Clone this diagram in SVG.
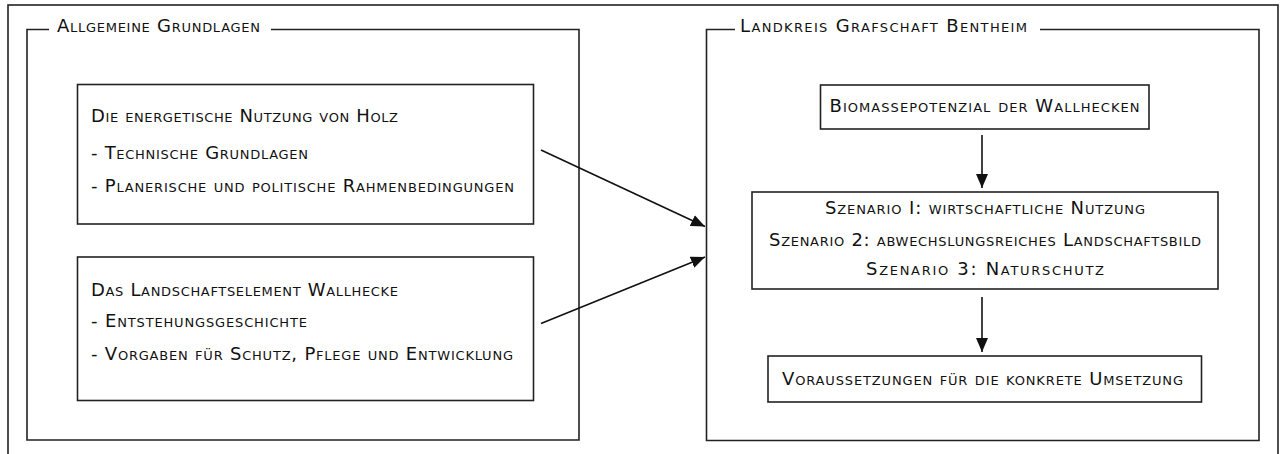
<svg xmlns="http://www.w3.org/2000/svg" width="1282" height="454" viewBox="0 0 1282 454">
<style>
.frame{fill:none;stroke:#222;stroke-width:1.6}
.box{fill:#fff;stroke:#222;stroke-width:1.6}
.ln{stroke:#222;stroke-width:1.6;fill:none}
.t{font-family:"DejaVu Sans","Liberation Sans",sans-serif;font-size:18px;font-variant:small-caps;fill:#111}
.c{text-anchor:middle}
.conn{stroke:#111;stroke-width:1.6;fill:none}
</style>
<defs>
<marker id="ah" markerWidth="15" markerHeight="13" refX="14" refY="6" orient="auto" markerUnits="userSpaceOnUse">
<path d="M0,0 L14,6 L0,12 Z" fill="#111"/>
</marker>
</defs>
<rect x="8" y="5" width="1270" height="460" class="frame"/>
<g id="group-allgemeine">
<polyline class="ln" points="49,29.5 27,29.5 27,440 579,440 579,29.5 271,29.5"/>
<text class="t" x="57" y="32" textLength="203" lengthAdjust="spacing">Allgemeine Grundlagen</text>
</g>
<g id="group-landkreis">
<polyline class="ln" points="735,29.5 706.5,29.5 706.5,440.5 1259,440.5 1259,29.5 1040,29.5"/>
<text class="t" x="740" y="32" textLength="287" lengthAdjust="spacing">Landkreis Grafschaft Bentheim</text>
</g>
<g id="node-holz">
<rect class="box" x="77.5" y="84.5" width="456" height="139.5"/>
<text class="t" x="91" y="122" textLength="307" lengthAdjust="spacing">Die energetische Nutzung von Holz</text>
<text class="t" x="91" y="159" textLength="217" lengthAdjust="spacing">- Technische Grundlagen</text>
<text class="t" x="91" y="191.5" textLength="423" lengthAdjust="spacing">- Planerische und politische Rahmenbedingungen</text>
</g>
<g id="node-wallhecke">
<rect class="box" x="77.5" y="257" width="456" height="143.5"/>
<text class="t" x="91" y="295.5" textLength="307" lengthAdjust="spacing">Das Landschaftselement Wallhecke</text>
<text class="t" x="91" y="327" textLength="216" lengthAdjust="spacing">- Entstehungsgeschichte</text>
<text class="t" x="91" y="360" textLength="422" lengthAdjust="spacing">- Vorgaben für Schutz, Pflege und Entwicklung</text>
</g>
<g id="node-biomasse">
<rect class="box" x="820.5" y="85" width="328.5" height="44"/>
<text class="t c" x="984.5" y="112" textLength="310" lengthAdjust="spacing">Biomassepotenzial der Wallhecken</text>
</g>
<g id="node-szenarien">
<rect class="box" x="752" y="192" width="466" height="97"/>
<text class="t c" x="985" y="213.5" textLength="320" lengthAdjust="spacing">Szenario I: wirtschaftliche Nutzung</text>
<text class="t c" x="985" y="245.5" textLength="432" lengthAdjust="spacing">Szenario 2: abwechslungsreiches Landschaftsbild</text>
<text class="t c" x="985" y="275" textLength="238" lengthAdjust="spacing">Szenario 3: Naturschutz</text>
</g>
<g id="node-umsetzung">
<rect class="box" x="768" y="356" width="433.5" height="46"/>
<text class="t c" x="982.5" y="385" textLength="401" lengthAdjust="spacing">Voraussetzungen für die konkrete Umsetzung</text>
</g>
<g id="connectors">
<line class="conn" x1="541" y1="150" x2="705" y2="226.5" marker-end="url(#ah)"/>
<line class="conn" x1="541" y1="323.5" x2="705" y2="257" marker-end="url(#ah)"/>
<line class="conn" x1="982" y1="135" x2="982" y2="188" marker-end="url(#ah)"/>
<line class="conn" x1="982" y1="297" x2="982" y2="352" marker-end="url(#ah)"/>
</g>
</svg>
